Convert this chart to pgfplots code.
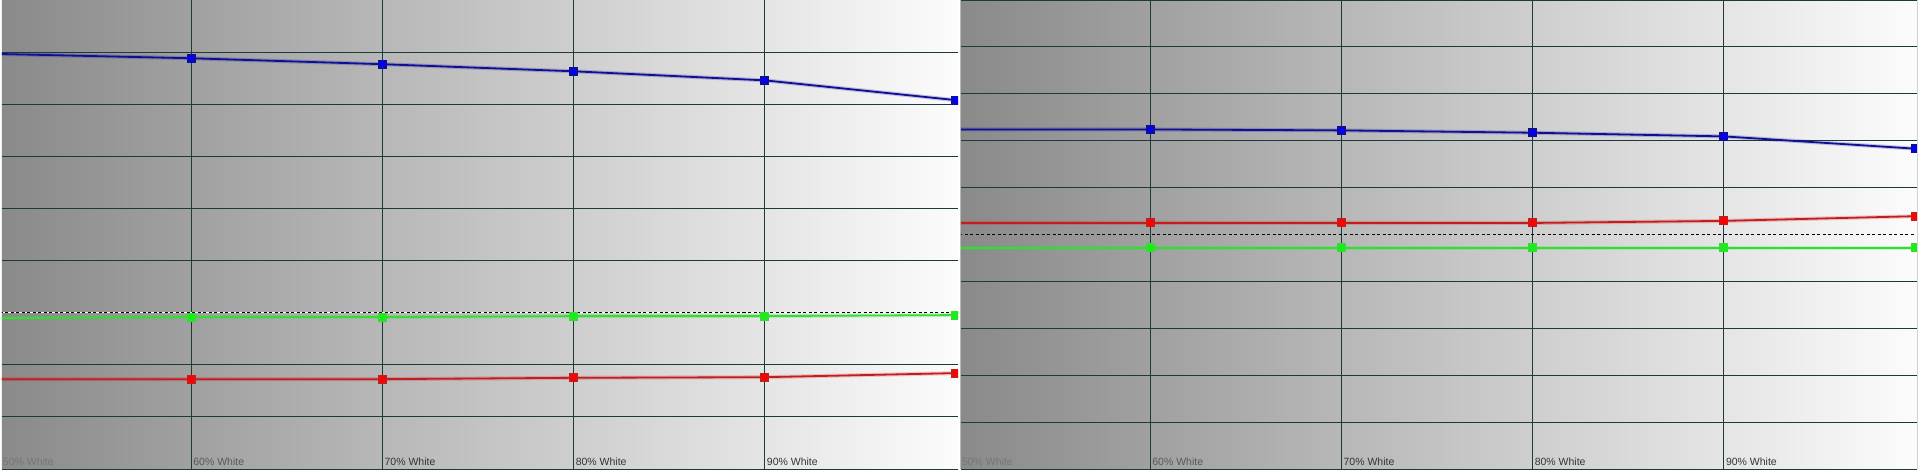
\documentclass[border=0pt]{standalone}
\usepackage{fontspec}
\setmainfont{Liberation Sans}
\usepackage{pgfplots}
\pgfplotsset{compat=1.18}

\definecolor{gridc}{RGB}{28,58,58}
\definecolor{bgleft}{RGB}{138,138,138}
\definecolor{bgright}{RGB}{252,252,252}
\definecolor{bline}{RGB}{14,14,150}
\definecolor{bmark}{RGB}{0,0,255}
\definecolor{rline}{RGB}{200,28,28}
\definecolor{rmark}{RGB}{255,0,0}
\definecolor{gline}{RGB}{50,222,50}
\definecolor{gmark}{RGB}{20,240,20}
\definecolor{labA}{RGB}{118,118,118}
\definecolor{labB}{RGB}{88,88,88}
\definecolor{labC}{RGB}{52,52,52}

\tikzset{
  lab/.style={anchor=base west, inner sep=0pt, font=\fontsize{10.5pt}{12pt}\selectfont},
}

\pgfplotsset{
  panel/.style={
    scale only axis, width=956pt, height=469pt,
    xmin=50.105, xmax=100.105,
    xtick={60,70,80,90},
    xticklabels={}, yticklabels={},
    major tick length=0pt,
    grid=major,
    major grid style={draw=gridc, line width=1pt},
    axis line style={draw=none},
    axis background/.style={left color=bgleft, right color=bgright},
    clip marker paths=true,
  },
  series/.style 2 args={
    draw=#1, line width=1.8pt,
    preaction={draw=#1, line width=4pt, opacity=0.22},
    mark=square*, mark size=3.6pt,
    mark options={draw=none, fill=#2, solid},
  },
  reference/.style={draw=black, line width=0.9pt, dash pattern=on 3pt off 2.5pt},
}

\begin{document}
\begin{tikzpicture}
\fill[white] (0,0) rectangle (1920pt,469pt);

% Left panel: RGB balance
\begin{axis}[panel, at={(2pt,0pt)}, anchor=south west,
  ymin=85, ymax=130, ytick={85,90,95,105,110,115,120,125,130}]
  \addplot[draw=white, line width=0.9pt, forget plot] coordinates {(50,100) (100,100)};
  \addplot[reference] coordinates {(50,100) (100,100)};
  \addplot[series={bline}{bmark}] coordinates {
    (50,124.82) (60,124.41) (70,123.84) (80,123.16) (90,122.29) (100,120.39)};
  \addplot[series={gline}{gmark}] coordinates {
    (50,99.48) (60,99.58) (70,99.58) (80,99.67) (90,99.67) (100,99.77)};
  \addplot[series={rline}{rmark}] coordinates {
    (50,93.62) (60,93.62) (70,93.62) (80,93.75) (90,93.81) (100,94.20)};
  \node[lab, text=labA] at (axis cs:50.105,85) [xshift=0.8pt, yshift=3.3pt] {50\% White};
  \node[lab, text=labB] at (axis cs:60,85) [xshift=2pt, yshift=3.3pt] {60\% White};
  \node[lab, text=labC] at (axis cs:70,85) [xshift=2pt, yshift=3.3pt] {70\% White};
  \node[lab, text=labC] at (axis cs:80,85) [xshift=2pt, yshift=3.3pt] {80\% White};
  \node[lab, text=labC] at (axis cs:90,85) [xshift=2pt, yshift=3.3pt] {90\% White};
\end{axis}

% Right panel: RGB balance
\begin{axis}[panel, at={(961pt,0pt)}, anchor=south west,
  ymin=75, ymax=125, ytick={75,80,85,90,95,105,110,115,120,125}]
  \addplot[reference] coordinates {(50,100) (100,100)};
  \addplot[series={bline}{bmark}] coordinates {
    (50,111.20) (60,111.20) (70,111.10) (80,110.85) (90,110.46) (100,109.15)};
  \addplot[series={rline}{rmark}] coordinates {
    (50,101.23) (60,101.23) (70,101.23) (80,101.23) (90,101.45) (100,101.95)};
  \addplot[series={gline}{gmark}] coordinates {
    (50,98.57) (60,98.57) (70,98.57) (80,98.57) (90,98.57) (100,98.57)};
  \node[lab, text=labA] at (axis cs:50.105,75) [xshift=0.8pt, yshift=3.3pt] {50\% White};
  \node[lab, text=labB] at (axis cs:60,75) [xshift=2pt, yshift=3.3pt] {60\% White};
  \node[lab, text=labC] at (axis cs:70,75) [xshift=2pt, yshift=3.3pt] {70\% White};
  \node[lab, text=labC] at (axis cs:80,75) [xshift=2pt, yshift=3.3pt] {80\% White};
  \node[lab, text=labC] at (axis cs:90,75) [xshift=2pt, yshift=3.3pt] {90\% White};
\end{axis}

\draw[black!28, line width=1pt] (960.5pt,0) -- (960.5pt,469pt);
\draw[black!18, line width=1pt] (1917.5pt,0) -- (1917.5pt,469pt);

\pgfresetboundingbox
\path[use as bounding box] (0,0) rectangle (1920pt,469pt);
\end{tikzpicture}
\end{document}
